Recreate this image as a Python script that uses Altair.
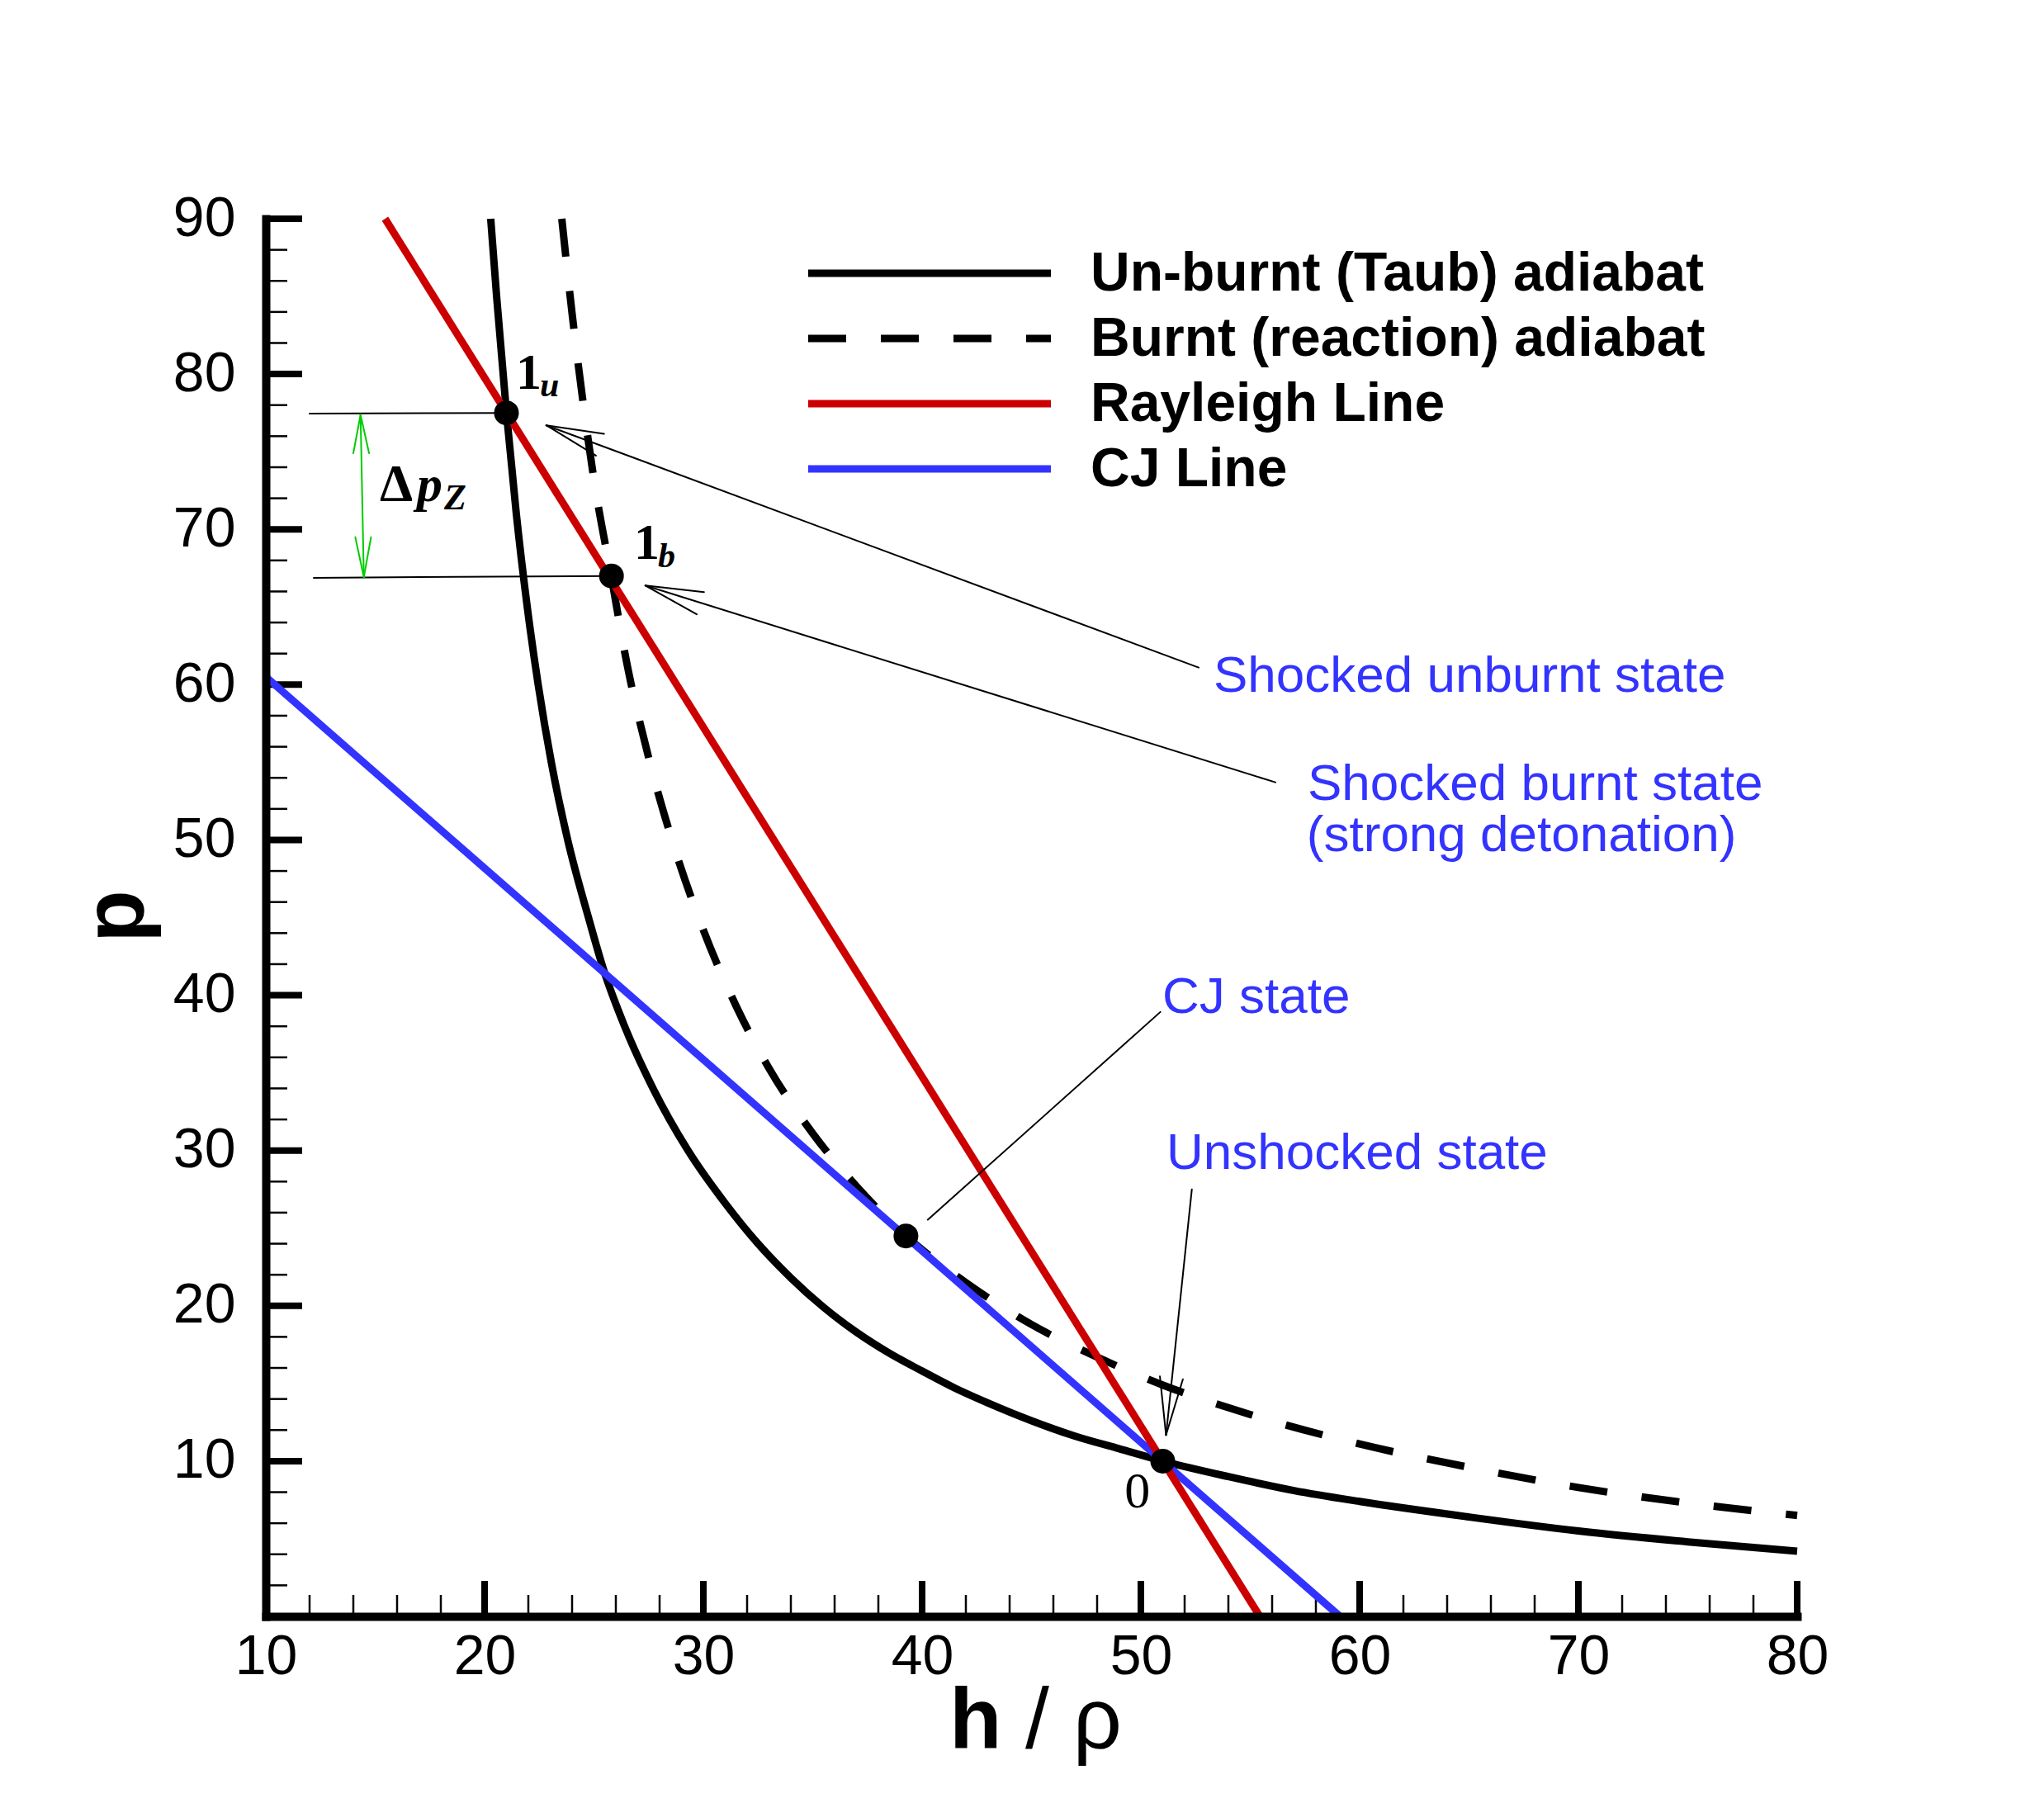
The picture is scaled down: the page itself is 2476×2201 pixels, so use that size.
import altair as alt
import pandas as pd

# ---------------- data ----------------
unburnt_x = [20.28, 20.55, 21.0, 21.45, 21.95, 22.45, 23.05, 23.8, 24.75, 25.45, 26.4, 27.7,
             29.3, 31.0, 32.5, 34.0, 35.5, 37.0, 38.5, 40.0, 41.5, 43.0, 45.0, 47.0, 49.0,
             51.0, 54.0, 57.0, 60.0, 65.0, 70.0, 75.0, 80.0]
unburnt_p = [90, 85, 77.5, 71, 65, 60, 55, 50, 45, 41.6, 38, 34,
             30, 26.6, 24.0, 21.8, 19.9, 18.3, 16.95, 15.8, 14.7, 13.75, 12.6, 11.6, 10.8,
             10.0, 9.0, 8.1, 7.4, 6.4, 5.5, 4.8, 4.2]

burnt_x = [23.53, 24.0, 24.5, 25.0, 25.8, 26.5, 27.5, 28.5, 30.0, 31.5, 33.0, 35.0, 37.0,
           39.26, 42.0, 45.0, 48.0, 51.0, 55.0, 60.0, 65.0, 70.0, 75.0, 80.0]
burnt_p = [90, 83.9, 78.2, 73.2, 66.9, 61.4, 55.3, 50.3, 44.2, 39.3, 35.3, 31.1, 27.7,
           24.5, 21.5, 18.8, 16.7, 14.9, 13.0, 11.1, 9.6, 8.3, 7.3, 6.5]

rayleigh_x = [15.45, 55.44]
rayleigh_p = [90, 0]

cj_x = [10, 59.1]
cj_p = [60.5, 0]

state_names = ["1u", "1b", "CJ", "0"]
state_x = [21.0, 25.8, 39.26, 51.0]
state_p = [77.5, 67.0, 24.5, 10.0]

x_ticks = [10, 20, 30, 40, 50, 60, 70, 80]
y_ticks = [10, 20, 30, 40, 50, 60, 70, 80, 90]
x_minor = [12, 14, 16, 18, 22, 24, 26, 28, 32, 34, 36, 38, 42, 44, 46, 48,
           52, 54, 56, 58, 62, 64, 66, 68, 72, 74, 76, 78]
y_minor = [2, 4, 6, 8, 12, 14, 16, 18, 22, 24, 26, 28, 32, 34, 36, 38, 42, 44, 46, 48,
           52, 54, 56, 58, 62, 64, 66, 68, 72, 74, 76, 78, 82, 84, 86, 88]

legend_names = ["Un-burnt (Taub) adiabat", "Burnt (reaction) adiabat", "Rayleigh Line", "CJ Line"]
legend_colors = ["#000000", "#000000", "#CC0000", "#3333FF"]

# annotation leader lines (x, p) -> (x2, p2)
seg_x = [52.64, 22.82, 22.82, 56.15, 27.35, 27.35, 50.89, 52.33, 51.15, 51.15, 12.0, 12.19]
seg_p = [61.1, 76.7, 76.7, 53.71, 66.38, 66.38, 38.92, 27.5, 11.68, 11.68, 77.45, 66.88]
seg_x2 = [22.82, 25.46, 25.09, 27.35, 30.03, 29.70, 40.26, 51.15, 50.87, 51.92, 21.0, 25.8]
seg_p2 = [76.7, 76.15, 74.75, 66.38, 65.96, 64.53, 25.54, 11.68, 15.46, 15.27, 77.5, 67.0]

green_x = [14.33, 14.33, 14.33, 14.48, 14.48]
green_p = [77.38, 77.38, 77.38, 66.93, 66.93]
green_x2 = [14.48, 14.0, 14.72, 14.09, 14.81]
green_p2 = [66.93, 74.9, 74.9, 69.5, 69.5]

ann_text = ["Shocked unburnt state", "Shocked burnt state", "(strong detonation)", "CJ state", "Unshocked state"]
ann_x = [53.32, 57.62, 57.58, 50.98, 51.17]
ann_p = [59.54, 52.58, 49.28, 38.86, 28.81]

# ---------------- layout ----------------
W, H = 1855, 1693
PAD = {"left": 322, "top": 265, "right": 2476 - 322 - W, "bottom": 2201 - 265 - H}

xs = alt.Scale(domain=[10, 80], nice=False, zero=False)
ys = alt.Scale(domain=[0, 90], nice=False, zero=False)

common_axis = dict(title="", labelFontSize=68, labelFont="Liberation Sans", labelColor="black",
                   ticks=False, tickSize=0, domainWidth=10, domainColor="black", domainCap="square",
                   grid=False, labelFlush=False, labelOverlap=False, zindex=1, format="d")
xaxis = alt.Axis(values=x_ticks, labelPadding=15, **common_axis)
yaxis = alt.Axis(values=y_ticks, labelPadding=37, **common_axis)


def X(f):
    return alt.X(f, type="quantitative", scale=xs, axis=xaxis)


def Y(f):
    return alt.Y(f, type="quantitative", scale=ys, axis=yaxis)


def curve(xv, pv, color, dash=None):
    df = pd.DataFrame({"x": xv, "p": pv})
    kw = dict(color=color, strokeWidth=9, strokeCap="butt", strokeJoin="round", interpolate="monotone")
    if dash:
        kw["strokeDash"] = dash
    return alt.Chart(df).mark_line(**kw).encode(x=X("x"), y=Y("p"))


def segs(x1, p1, x2, p2, color, width):
    df = pd.DataFrame({"x": x1, "p": p1, "x2": x2, "p2": p2})
    return alt.Chart(df).mark_rule(color=color, strokeWidth=width, strokeCap="round").encode(
        x=X("x"), y=Y("p"), x2="x2:Q", y2="p2:Q")


def dtext(texts, xv, pv, font, size, color="black", weight="normal", style="normal"):
    df = pd.DataFrame({"t": texts, "x": xv, "p": pv})
    return alt.Chart(df).mark_text(align="left", baseline="alphabetic", font=font, fontSize=size,
                                   fontWeight=weight, fontStyle=style, color=color).encode(
        x=X("x"), y=Y("p"), text="t:N")


one = pd.DataFrame({"a": [0]})


def ptext(text, px, py, size, weight="normal", color="black", font="Liberation Sans", align="left", angle=0):
    kw = dict(text=text, align=align, baseline="alphabetic", font=font, fontSize=size,
              fontWeight=weight, color=color)
    if angle:
        kw["angle"] = angle
    return alt.Chart(one).mark_text(**kw).encode(x=alt.value(px), y=alt.value(py))


layers = []

# custom inward ticks
layers.append(alt.Chart(pd.DataFrame({"t": x_ticks[1:]})).mark_rule(color="black", strokeWidth=8, strokeCap="butt")
              .encode(x=X("t"), y=alt.value(H), y2=alt.value(H - 43)))
layers.append(alt.Chart(pd.DataFrame({"t": x_minor})).mark_rule(color="black", strokeWidth=2.5, strokeCap="butt")
              .encode(x=X("t"), y=alt.value(H), y2=alt.value(H - 26)))
layers.append(alt.Chart(pd.DataFrame({"t": y_ticks})).mark_rule(color="black", strokeWidth=8, strokeCap="butt")
              .encode(y=Y("t"), x=alt.value(0), x2=alt.value(44)))
layers.append(alt.Chart(pd.DataFrame({"t": y_minor})).mark_rule(color="black", strokeWidth=2.5, strokeCap="butt")
              .encode(y=Y("t"), x=alt.value(0), x2=alt.value(26)))

# curves
layers.append(curve(unburnt_x, unburnt_p, legend_colors[0]))
layers.append(curve(burnt_x, burnt_p, legend_colors[1], [46, 42]))
layers.append(curve(cj_x, cj_p, legend_colors[3]))
layers.append(curve(rayleigh_x, rayleigh_p, legend_colors[2]))

# annotation lines
layers.append(segs(seg_x, seg_p, seg_x2, seg_p2, "black", 2))
layers.append(segs(green_x, green_p, green_x2, green_p2, "#00CC00", 2))

# state points
layers.append(alt.Chart(pd.DataFrame({"name": state_names, "x": state_x, "p": state_p}))
              .mark_circle(size=900, color="black", opacity=1).encode(x=X("x"), y=Y("p")))

# state labels (math style)
layers.append(dtext(["1", "1"], [21.43, 26.83], [79.05, 68.1], "Liberation Serif", 62, weight="bold"))
layers.append(dtext(["u", "b"], [22.53, 27.92], [78.57, 67.57], "Liberation Serif", 42, weight="bold", style="italic"))
layers.append(dtext(["\u0394"], [15.21], [71.84], "Liberation Serif", 64, weight="bold"))
layers.append(dtext(["p"], [16.91], [71.84], "Liberation Serif", 62, weight="bold", style="italic"))
layers.append(dtext(["Z"], [18.15], [71.29], "Liberation Serif", 44, weight="bold", style="italic"))
layers.append(dtext(["0"], [49.25], [7.02], "Liberation Serif", 62))

# blue annotation text
layers.append(dtext(ann_text, ann_x, ann_p, "Liberation Sans", 62, color="#3333FF"))

# legend (manual, from legend arrays)
row_y = [66, 145, 224, 303]
for i, name in enumerate(legend_names):
    kw = dict(color=legend_colors[i], strokeWidth=9, strokeCap="butt")
    if i == 1:
        kw["strokeDash"] = [46, 42]
    layers.append(alt.Chart(one).mark_rule(**kw).encode(
        x=alt.value(657), x2=alt.value(951), y=alt.value(row_y[i])))
    layers.append(ptext(name, 999, row_y[i] + 21, 66, weight="bold"))

# axis titles
layers.append(ptext("h", 828, 1852, 104, weight="bold"))
layers.append(ptext("/ \u03c1", 920, 1852, 104))
layers.append(ptext("p", -149, 845, 104, weight="bold", align="center", angle=270))

chart = alt.layer(*layers).properties(
    width=W, height=H,
    autosize=alt.AutoSizeParams(type="none"),
    padding=PAD,
    background="white",
    view=alt.ViewBackground(stroke="transparent", strokeWidth=0, strokeOpacity=0),
).configure_view(stroke="transparent", strokeWidth=0, strokeOpacity=0).configure(font="Liberation Sans")

chart.save("out.html", embed_options={"renderer": "svg", "actions": False})
